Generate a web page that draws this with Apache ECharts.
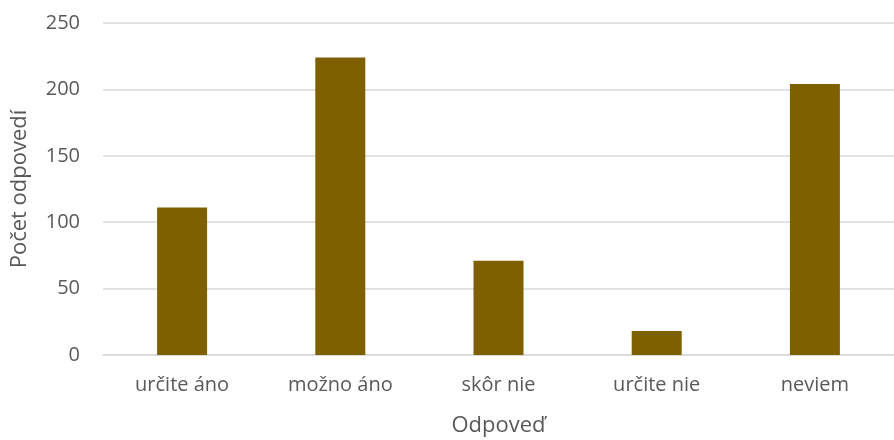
<!DOCTYPE html>
<html>
<head>
<meta charset="utf-8">
<script src="https://cdn.jsdelivr.net/npm/echarts@6/dist/echarts.min.js"></script>
<style>
  html, body { margin: 0; padding: 0; background: #fff; }
  #chart { width: 894px; height: 440px; }
</style>
</head>
<body>
<div id="chart"></div>
<script>
  var categories = ['určite áno', 'možno áno', 'skôr nie', 'určite nie', 'neviem'];
  var counts = [111, 224, 71, 18, 204];

  var chart = echarts.init(document.getElementById('chart'));
  var textColor = '#595959';
  var font = '"Open Sans", "Noto Sans", sans-serif';

  chart.setOption({
    animation: false,
    grid: { left: 103, right: 0, top: 23, bottom: 85, containLabel: false, outerBoundsMode: 'none' },
    xAxis: {
      type: 'category',
      data: categories,
      name: 'Odpoveď',
      nameLocation: 'middle',
      nameGap: 60,
      nameTextStyle: { color: textColor, fontSize: 22, fontFamily: font },
      axisLine: { lineStyle: { color: '#d9d9d9', width: 1.5 } },
      axisTick: { show: false },
      axisLabel: { color: textColor, fontSize: 20, fontFamily: font, margin: 20 }
    },
    yAxis: {
      type: 'value',
      min: 0,
      max: 250,
      interval: 50,
      name: 'Počet odpovedí',
      nameLocation: 'middle',
      nameGap: 72,
      nameTextStyle: { color: textColor, fontSize: 22, fontFamily: font },
      axisLine: { show: false },
      axisTick: { show: false },
      axisLabel: { color: textColor, fontSize: 20, fontFamily: font, margin: 23 },
      splitLine: { lineStyle: { color: '#d9d9d9', width: 1.5 } }
    },
    series: [{
      type: 'bar',
      data: counts,
      barWidth: 50,
      itemStyle: { color: '#7F6000' }
    }]
  });
</script>
</body>
</html>
